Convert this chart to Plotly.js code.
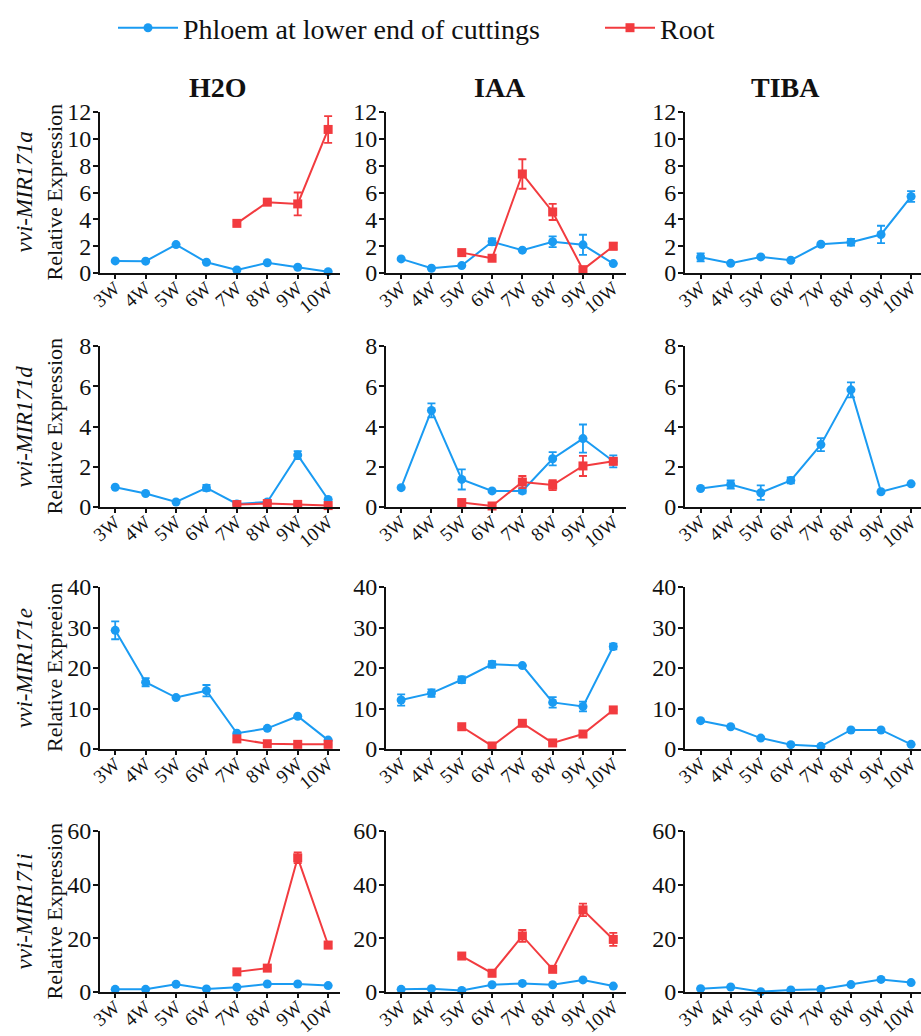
<!DOCTYPE html>
<html>
<head>
<meta charset="utf-8">
<script src="https://cdn.plot.ly/plotly-3.0.1.min.js"></script>
<style>html,body{margin:0;padding:0;background:#fff;}#chart{width:921px;height:1036px;}</style>
</head>
<body>
<div id="chart"></div>
<script>
const weeks = ['3W','4W','5W','6W','7W','8W','9W','10W'];
const treatments = ['H2O','IAA','TIBA'];
const genes = ['vvi-MIR171a','vvi-MIR171d','vvi-MIR171e','vvi-MIR171i'];
const yTitles = ['Relative Expression','Relative Expression','Relative Expreeion','Relative Expression'];
const seriesNames = ['Phloem at lower end of cuttings','Root'];

// MIR171a
const phloem_a_H2O = [0.9, 0.88, 2.12, 0.8, 0.22, 0.76, 0.43, 0.1];
const phloem_a_H2O_err = [0, 0, 0, 0, 0, 0, 0, 0];
const root_a_H2O = [null, null, null, null, 3.7, 5.28, 5.15, 10.7];
const root_a_H2O_err = [0, 0, 0, 0, 0.15, 0.1, 0.85, 1.0];
const phloem_a_IAA = [1.05, 0.35, 0.55, 2.33, 1.7, 2.33, 2.1, 0.7];
const phloem_a_IAA_err = [0, 0, 0, 0.25, 0, 0.4, 0.75, 0];
const root_a_IAA = [null, null, 1.52, 1.1, 7.38, 4.55, 0.25, 2.0];
const root_a_IAA_err = [0, 0, 0, 0, 1.1, 0.6, 0, 0.25];
const phloem_a_TIBA = [1.17, 0.72, 1.2, 0.95, 2.14, 2.3, 2.87, 5.7];
const phloem_a_TIBA_err = [0.3, 0, 0, 0, 0, 0.25, 0.65, 0.4];

// MIR171d
const phloem_d_H2O = [0.98, 0.67, 0.25, 0.95, 0.15, 0.25, 2.58, 0.37];
const phloem_d_H2O_err = [0, 0, 0, 0.15, 0, 0, 0.2, 0];
const root_d_H2O = [null, null, null, null, 0.12, 0.17, 0.13, 0.07];
const root_d_H2O_err = [0, 0, 0, 0, 0, 0, 0, 0];
const phloem_d_IAA = [0.96, 4.8, 1.37, 0.8, 0.8, 2.4, 3.4, 2.27];
const phloem_d_IAA_err = [0, 0.35, 0.5, 0, 0.12, 0.33, 0.7, 0.3];
const root_d_IAA = [null, null, 0.22, 0.05, 1.24, 1.09, 2.04, 2.27];
const root_d_IAA_err = [0, 0, 0.15, 0, 0.3, 0.25, 0.5, 0.15];
const phloem_d_TIBA = [0.92, 1.12, 0.71, 1.32, 3.1, 5.82, 0.76, 1.15];
const phloem_d_TIBA_err = [0, 0.2, 0.36, 0.15, 0.32, 0.37, 0, 0];

// MIR171e
const phloem_e_H2O = [29.3, 16.5, 12.7, 14.4, 3.9, 5.1, 8.1, 2.2];
const phloem_e_H2O_err = [2.2, 1.0, 0, 1.4, 0, 0, 0, 0];
const root_e_H2O = [null, null, null, null, 2.5, 1.3, 1.15, 1.15];
const root_e_H2O_err = [0, 0, 0, 0, 0, 0, 0, 0];
const phloem_e_IAA = [12.1, 13.8, 17.1, 20.9, 20.6, 11.5, 10.5, 25.3];
const phloem_e_IAA_err = [1.4, 0.9, 0.8, 0.8, 0, 1.3, 1.2, 0.7];
const root_e_IAA = [null, null, 5.5, 0.75, 6.35, 1.5, 3.7, 9.65];
const root_e_IAA_err = [0, 0, 0, 0, 0, 0, 0, 0];
const phloem_e_TIBA = [7.0, 5.5, 2.7, 1.07, 0.66, 4.7, 4.7, 1.15];
const phloem_e_TIBA_err = [0, 0, 0, 0, 0, 0, 0, 0];

// MIR171i
const phloem_i_H2O = [1.0, 1.0, 2.9, 1.1, 1.75, 3.0, 3.0, 2.4];
const phloem_i_H2O_err = [0, 0, 0, 0, 0, 0, 0, 0];
const root_i_H2O = [null, null, null, null, 7.5, 8.9, 50.0, 17.5];
const root_i_H2O_err = [0, 0, 0, 0, 0, 0, 2.0, 1.2];
const phloem_i_IAA = [1.0, 1.25, 0.6, 2.7, 3.2, 2.7, 4.5, 2.2];
const phloem_i_IAA_err = [0, 0, 0, 0, 0, 0, 0, 0];
const root_i_IAA = [null, null, 13.4, 7.0, 20.9, 8.45, 30.6, 19.6];
const root_i_IAA_err = [0, 0, 0, 1.2, 2.2, 0, 2.3, 2.4];
const phloem_i_TIBA = [1.25, 1.87, 0.12, 0.75, 1.0, 2.75, 4.7, 3.5];
const phloem_i_TIBA_err = [0, 0, 0, 0, 0, 0, 0, 0];

const yMax = [12, 8, 40, 60];
const yStep = [2, 2, 10, 20];

const panels = [
  [[phloem_a_H2O, phloem_a_H2O_err, root_a_H2O, root_a_H2O_err],
   [phloem_a_IAA, phloem_a_IAA_err, root_a_IAA, root_a_IAA_err],
   [phloem_a_TIBA, phloem_a_TIBA_err, null, null]],
  [[phloem_d_H2O, phloem_d_H2O_err, root_d_H2O, root_d_H2O_err],
   [phloem_d_IAA, phloem_d_IAA_err, root_d_IAA, root_d_IAA_err],
   [phloem_d_TIBA, phloem_d_TIBA_err, null, null]],
  [[phloem_e_H2O, phloem_e_H2O_err, root_e_H2O, root_e_H2O_err],
   [phloem_e_IAA, phloem_e_IAA_err, root_e_IAA, root_e_IAA_err],
   [phloem_e_TIBA, phloem_e_TIBA_err, null, null]],
  [[phloem_i_H2O, phloem_i_H2O_err, root_i_H2O, root_i_H2O_err],
   [phloem_i_IAA, phloem_i_IAA_err, root_i_IAA, root_i_IAA_err],
   [phloem_i_TIBA, phloem_i_TIBA_err, null, null]]
];

const W = 921, H = 1036;
const BLUE = '#1a9bf2', RED = '#f23b3f';
const SERIF = 'Liberation Serif, serif';
const colPx = [[100, 340], [386, 626], [685, 921]];
const colRange = [[-0.5, 7.39], [-0.5, 7.42], [-0.52, 7.33]];
const rowPx = [[112, 273], [346, 507], [587, 749], [831, 992]];

const data = [];
const legendFont = {family: SERIF, size: 28, color: '#111'};
const layout = {
  width: W, height: H,
  margin: {l: 0, r: 0, t: 0, b: 0, autoexpand: false},
  paper_bgcolor: '#fff', plot_bgcolor: 'rgba(0,0,0,0)',
  showlegend: true,
  legend: {
    orientation: 'h', x: 113 / W, y: 1 - 28 / H, xanchor: 'left', yanchor: 'middle',
    font: legendFont, itemwidth: 60, bgcolor: 'rgba(0,0,0,0)'
  },
  legend2: {
    orientation: 'h', x: 600 / W, y: 1 - 28 / H, xanchor: 'left', yanchor: 'middle',
    font: legendFont, itemwidth: 50, bgcolor: 'rgba(0,0,0,0)'
  },
  annotations: []
};

let idx = 0;
for (let r = 0; r < 4; r++) {
  for (let c = 0; c < 3; c++) {
    idx++;
    const sfx = idx === 1 ? '' : String(idx);
    const xa = 'x' + sfx, ya = 'y' + sfx;
    const [blue, blueErr, red, redErr] = panels[r][c];
    data.push({
      type: 'scatter', mode: 'lines+markers', x: weeks, y: blue,
      name: seriesNames[0], legend: 'legend', showlegend: idx === 1,
      xaxis: xa, yaxis: ya, cliponaxis: false,
      line: {color: BLUE, width: 2},
      marker: {symbol: 'circle', size: 9, color: BLUE},
      error_y: {type: 'data', array: blueErr, visible: true, color: BLUE, thickness: 1.8, width: 4}
    });
    if (red) {
      data.push({
        type: 'scatter', mode: 'lines+markers', x: weeks, y: red,
        name: seriesNames[1], legend: 'legend2', showlegend: idx === 1,
        xaxis: xa, yaxis: ya, cliponaxis: false,
        line: {color: RED, width: 2},
        marker: {symbol: 'square', size: 9, color: RED},
        error_y: {type: 'data', array: redErr, visible: true, color: RED, thickness: 1.8, width: 4}
      });
    }
    const xdom = [colPx[c][0] / W, colPx[c][1] / W];
    const ydom = [1 - rowPx[r][1] / H, 1 - rowPx[r][0] / H];
    layout['xaxis' + sfx] = {
      domain: xdom, anchor: ya, type: 'category', range: colRange[c],
      showline: true, linecolor: '#111', linewidth: 2, mirror: false,
      ticks: 'outside', ticklen: 4, tickwidth: 2, tickcolor: '#111',
      showgrid: false, zeroline: false, tickangle: -40, ticklabelstandoff: -9,
      tickfont: {family: SERIF, size: 19, color: '#111'}, fixedrange: true, automargin: false
    };
    layout['yaxis' + sfx] = {
      domain: ydom, anchor: xa, range: [0, yMax[r]], dtick: yStep[r], tick0: 0,
      showline: true, linecolor: '#111', linewidth: 2,
      ticks: 'outside', ticklen: 5, tickwidth: 2, tickcolor: '#111',
      showgrid: false, zeroline: false, ticklabelstandoff: -3,
      tickfont: {family: SERIF, size: 24, color: '#111'}, fixedrange: true, automargin: false
    };
  }
  const yc = 1 - (rowPx[r][0] + rowPx[r][1]) / 2 / H;
  layout.annotations.push({
    xref: 'paper', yref: 'paper', x: 24 / W, y: yc, xanchor: 'center', yanchor: 'middle',
    text: '<i>' + genes[r] + '</i>', textangle: -90, showarrow: false,
    font: {family: SERIF, size: 23, color: '#111'}
  });
  layout.annotations.push({
    xref: 'paper', yref: 'paper', x: 54 / W, y: yc, xanchor: 'center', yanchor: 'middle',
    text: yTitles[r], textangle: -90, showarrow: false,
    font: {family: SERIF, size: 22, color: '#111'}
  });
}
const colTitleX = [218, 500, 785];
treatments.forEach((t, i) => {
  layout.annotations.push({
    xref: 'paper', yref: 'paper', x: colTitleX[i] / W, y: 1 - 87 / H,
    xanchor: 'center', yanchor: 'middle', text: '<b>' + t + '</b>', showarrow: false,
    font: {family: SERIF, size: 28, color: '#111'}
  });
});

Plotly.newPlot('chart', data, layout, {staticPlot: true, displayModeBar: false});
</script>
</body>
</html>
